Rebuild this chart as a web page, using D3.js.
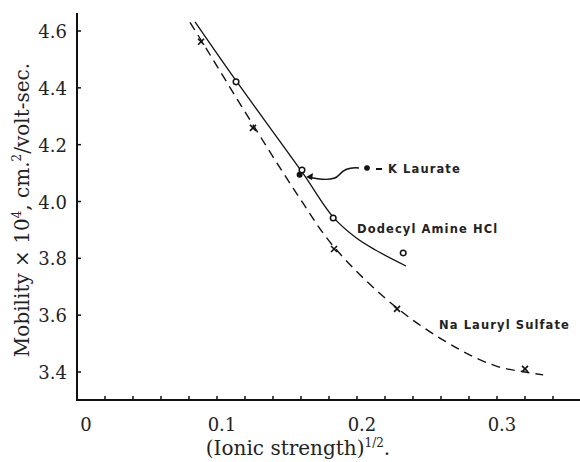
<!DOCTYPE html>
<html>
<head>
<meta charset="utf-8">
<script src="https://cdn.jsdelivr.net/npm/d3@7"></script>
<style>
  body { margin: 0; background: #fff; }
  svg { display: block; }
  .tick-label { font-family: "DejaVu Serif", serif; font-size: 18px; fill: #222; }
  .axis-title { font-family: "DejaVu Serif", serif; font-size: 20px; fill: #222; }
  .note { font-family: "DejaVu Sans", sans-serif; font-size: 11.5px; font-weight: bold; fill: #222; letter-spacing: 1.1px; }
</style>
</head>
<body>
<div id="container" style="width:580px;height:462px"></div>
<script>
const width = 580;
const height = 462;

// measured points
const amineX = [0.1136, 0.1607, 0.183, 0.233];
const amineY = [4.421, 4.111, 3.942, 3.819];
const laurateX = [0.159];
const laurateY = [4.094];
const sulfateX = [0.0886, 0.1257, 0.1836, 0.2286, 0.32];
const sulfateY = [4.562, 4.259, 3.833, 3.622, 3.411];

// hand-drawn curves through the points
const amineCurveX = [0.0843, 0.1136, 0.1607, 0.183, 0.1986, 0.2129, 0.235];
const amineCurveY = [4.632, 4.425, 4.104, 3.945, 3.875, 3.83, 3.773];
const sulfateCurveX = [0.0807, 0.0886, 0.1257, 0.158, 0.1836, 0.2286, 0.2736, 0.30, 0.32, 0.333];
const sulfateCurveY = [4.63, 4.568, 4.27, 4.02, 3.84, 3.625, 3.478, 3.42, 3.40, 3.39];

const yTicks = [3.4, 3.6, 3.8, 4.0, 4.2, 4.4, 4.6];
const xLabels = [0, 0.1, 0.2, 0.3];
const xMinor = d3.range(1, 18).map(i => i * 0.02);

const x = d3.scaleLinear().domain([0, 0.1]).range([77, 217]);
const y = d3.scaleLinear().domain([3.4, 4.6]).range([372, 31]);

const svg = d3.select("#container")
    .append("svg")
    .attr("width", width)
    .attr("height", height);

// axes
svg.append("line")
    .attr("x1", x(0)).attr("x2", x(0))
    .attr("y1", 13).attr("y2", 400)
    .attr("stroke", "#111").attr("stroke-width", 2);
svg.append("line")
    .attr("x1", x(0) - 1).attr("x2", 580)
    .attr("y1", 400).attr("y2", 400)
    .attr("stroke", "#111").attr("stroke-width", 2);

svg.selectAll(".ytick")
    .data(yTicks)
    .join("line")
    .attr("x1", x(0)).attr("x2", x(0) + 4)
    .attr("y1", d => y(d)).attr("y2", d => y(d))
    .attr("stroke", "#111").attr("stroke-width", 1.5);

svg.selectAll(".ylab")
    .data(yTicks)
    .join("text")
    .attr("class", "tick-label")
    .attr("x", 67)
    .attr("y", d => y(d) + 7)
    .attr("text-anchor", "end")
    .text(d => d.toFixed(1));

svg.selectAll(".xtick")
    .data(xMinor)
    .join("line")
    .attr("x1", d => x(d)).attr("x2", d => x(d))
    .attr("y1", 400).attr("y2", 396)
    .attr("stroke", "#111").attr("stroke-width", 1.5);

svg.selectAll(".xlab")
    .data(xLabels)
    .join("text")
    .attr("class", "tick-label")
    .attr("x", d => x(d) + (d === 0 ? 9 : 5))
    .attr("y", 431)
    .attr("text-anchor", "middle")
    .text(d => d === 0 ? "0" : d.toFixed(1));

// axis titles
svg.append("text")
    .attr("class", "axis-title")
    .attr("transform", "translate(29,210) rotate(-90)")
    .attr("text-anchor", "middle")
    .html("Mobility × 10<tspan dy='-8' font-size='12'>4</tspan><tspan dy='8'>, cm.</tspan><tspan dy='-8' font-size='12'>2</tspan><tspan dy='8'>/volt-sec.</tspan>");

svg.append("text")
    .attr("class", "axis-title")
    .attr("x", 298)
    .attr("y", 455)
    .attr("text-anchor", "middle")
    .html("(Ionic strength)<tspan dy='-8' font-size='12'>1/2</tspan><tspan dy='8'>.</tspan>");

// curves
const line = d3.line()
    .x(d => x(d[0]))
    .y(d => y(d[1]))
    .curve(d3.curveCatmullRom);

svg.append("path")
    .datum(amineCurveX.map((v, i) => [v, amineCurveY[i]]))
    .attr("d", line)
    .attr("fill", "none")
    .attr("stroke", "#111")
    .attr("stroke-width", 1.3);

svg.append("path")
    .datum(sulfateCurveX.map((v, i) => [v, sulfateCurveY[i]]))
    .attr("d", line)
    .attr("fill", "none")
    .attr("stroke", "#111")
    .attr("stroke-width", 1.4)
    .attr("stroke-dasharray", "9,6");

// markers
svg.selectAll(".amine")
    .data(amineX.map((v, i) => [v, amineY[i]]))
    .join("circle")
    .attr("cx", d => x(d[0]))
    .attr("cy", d => y(d[1]))
    .attr("r", 2.8)
    .attr("fill", "#fff")
    .attr("stroke", "#111")
    .attr("stroke-width", 1.5);

svg.selectAll(".laurate")
    .data(laurateX.map((v, i) => [v, laurateY[i]]))
    .join("circle")
    .attr("cx", d => x(d[0]))
    .attr("cy", d => y(d[1]))
    .attr("r", 3)
    .attr("fill", "#111");

svg.selectAll(".sulfate")
    .data(sulfateX.map((v, i) => [v, sulfateY[i]]))
    .join("path")
    .attr("transform", d => `translate(${x(d[0])},${y(d[1])})`)
    .attr("d", "M-3,-3L3,3M3,-3L-3,3")
    .attr("stroke", "#111")
    .attr("stroke-width", 1.6);

// annotation
svg.append("circle")
    .attr("cx", 367).attr("cy", 168).attr("r", 2.8).attr("fill", "#111");
svg.append("line")
    .attr("x1", 376).attr("x2", 382).attr("y1", 169).attr("y2", 169)
    .attr("stroke", "#111").attr("stroke-width", 2);
svg.append("text")
    .attr("class", "note")
    .attr("x", 388).attr("y", 173)
    .text("K Laurate");

svg.append("path")
    .attr("d", "M359,168 C349,167 343,170 339,175 C335,180 326,181 308,177")
    .attr("fill", "none")
    .attr("stroke", "#111")
    .attr("stroke-width", 1.4);
svg.append("path")
    .attr("d", "M306,177 L313,173 L312,180 Z")
    .attr("fill", "#111");

svg.append("text")
    .attr("class", "note")
    .attr("x", 357).attr("y", 233)
    .text("Dodecyl  Amine  HCl");

svg.append("text")
    .attr("class", "note")
    .attr("x", 439).attr("y", 329)
    .text("Na  Lauryl  Sulfate");
</script>
</body>
</html>
